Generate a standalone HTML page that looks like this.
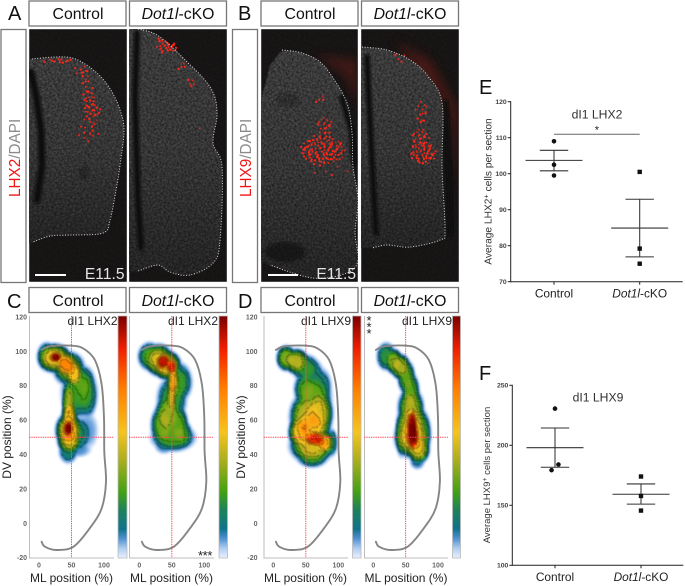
<!DOCTYPE html>
<html lang="en">
<head>
<meta charset="utf-8">
<title>LHX2 and LHX9 distribution in Dot1l-cKO</title>
<style>
html,body{margin:0;padding:0;background:#fff}
#figure{position:relative;width:685px;height:586px;overflow:hidden;background:#fff;font-family:"Liberation Sans",sans-serif}
#figure canvas{position:absolute;filter:blur(.5px)}
#art{position:absolute;left:0;top:0;filter:blur(.35px)}
text{font-family:"Liberation Sans",sans-serif}
.hdr{fill:#fff;stroke:#777;stroke-width:1.3}
.hdrt{font-size:15.8px;fill:#111;text-anchor:middle}
.letter{font-size:20px;fill:#111}
.out{fill:none;stroke:#eee;stroke-width:1;stroke-dasharray:1 1.7;opacity:.9}
.tissue{fill:#fff;filter:url(#tissueNoise)}
.shade{fill:url(#shadeGrad)}
.canal{fill:none;stroke:#0e0e0e;stroke-linecap:round;filter:url(#soft)}
.stain{font-size:15.3px}
.tag{font-size:15.6px;fill:#e4e4e4;text-anchor:end}
.bar{stroke:#fff;stroke-width:2}
.dtitle{font-size:12px;fill:#222;text-anchor:end}
.cb{fill:url(#heatGrad);stroke:#bbb;stroke-width:.8}
.axt{font-size:12px;fill:#222}
.stars{font-size:13px;fill:#222;text-anchor:middle}
</style>
</head>
<body>
<div id="figure">
<canvas id="cvC1"></canvas>
<canvas id="cvC2"></canvas>
<canvas id="cvD1"></canvas>
<canvas id="cvD2"></canvas>
<svg id="art" width="685" height="586" viewBox="0 0 685 586" xmlns="http://www.w3.org/2000/svg">
<defs>
<linearGradient id="heatGrad" x1="0" y1="1" x2="0" y2="0">
<stop offset="0" stop-color="#ebf0ff"/><stop offset=".04" stop-color="#afcdf0"/><stop offset=".08" stop-color="#5091d2"/><stop offset=".12" stop-color="#0f738c"/><stop offset=".2" stop-color="#1e825a"/><stop offset=".27" stop-color="#41a014"/><stop offset=".41" stop-color="#afaf1e"/><stop offset=".52" stop-color="#f5c31e"/><stop offset=".7" stop-color="#ff7d00"/><stop offset=".865" stop-color="#f01e00"/><stop offset="1" stop-color="#780000"/>
</linearGradient>
<linearGradient id="shadeGrad" x1="0" y1="0" x2="0" y2="1">
<stop offset="0" stop-color="#000" stop-opacity="0"/><stop offset=".5" stop-color="#000" stop-opacity=".1"/><stop offset="1" stop-color="#000" stop-opacity=".4"/>
</linearGradient>
<filter id="tissueNoise" x="0" y="0" width="100%" height="100%" color-interpolation-filters="sRGB">
<feTurbulence type="fractalNoise" baseFrequency=".8" numOctaves="1" seed="4"/>
<feColorMatrix values=".8 0 0 0 -.17  .8 0 0 0 -.17  .8 0 0 0 -.17  0 0 0 0 1"/>
<feComposite in2="SourceAlpha" operator="in"/>
<feGaussianBlur stdDeviation=".4"/>
</filter>
<filter id="bgNoise" x="0" y="0" width="100%" height="100%" color-interpolation-filters="sRGB">
<feTurbulence type="fractalNoise" baseFrequency=".7" numOctaves="1" seed="9"/>
<feColorMatrix values=".14 0 0 0 .02  .1 0 0 0 .03  .1 0 0 0 .03  0 0 0 0 1"/>
<feComposite in2="SourceAlpha" operator="in"/>
<feGaussianBlur stdDeviation=".5"/>
</filter>
<filter id="soft" x="-60%" y="-20%" width="220%" height="140%"><feGaussianBlur stdDeviation="1.2"/></filter>
<filter id="haze" x="-40%" y="-40%" width="180%" height="180%"><feGaussianBlur stdDeviation="5"/></filter>
<clipPath id="clipA1"><rect x="29" y="29" width="98" height="253"/></clipPath>
<clipPath id="clipA2"><rect x="129" y="29" width="98" height="253"/></clipPath>
<clipPath id="clipB1"><rect x="261" y="29" width="97" height="253"/></clipPath>
<clipPath id="clipB2"><rect x="361" y="29" width="98" height="253"/></clipPath>
</defs>

<!-- Panel A -->
<text class="letter" x="8" y="20">A</text>
<rect class="hdr" x="29" y="1" width="97" height="25"/>
<text class="hdrt" x="78" y="19">Control</text>
<rect class="hdr" x="129.5" y="1" width="97" height="25"/>
<text class="hdrt" x="178" y="19"><tspan font-style="italic">Dot1l</tspan>-cKO</text>
<rect class="hdr" x="1" y="29.5" width="25" height="253"/>
<text class="stain" transform="translate(20 197) rotate(-90)"><tspan fill="#f01414">LHX2</tspan><tspan fill="#8a8a8a">/DAPI</tspan></text>

<g clip-path="url(#clipA1)">
<rect x="29" y="29" width="98" height="253" fill="#fff" filter="url(#bgNoise)"/>
<path class="tissue" id="tA1"/>
<path class="shade" id="sA1"/>
<path class="canal" stroke-width="7" d="M31 72 L36 95 L41 130 L42 165 L37 200"/>
<ellipse cx="84" cy="173" rx="5" ry="7" fill="#111" opacity=".3" filter="url(#soft)"/>
<g id="cellsA1"></g>
<path class="out" id="oA1"/>
<line class="bar" x1="35" x2="66" y1="275" y2="275"/>
<text class="tag" x="124.5" y="279">E11.5</text>
</g>

<g clip-path="url(#clipA2)">
<rect x="129" y="29" width="98" height="253" fill="#fff" filter="url(#bgNoise)"/>
<path class="tissue" id="tA2"/>
<path class="shade" id="sA2"/>
<path class="canal" stroke-width="6" d="M137 33 L135 100 L138 200 L141 248"/>
<g id="cellsA2"></g>
<path class="out" id="oA2"/>
</g>

<!-- Panel B -->
<text class="letter" x="238" y="20">B</text>
<rect class="hdr" x="261" y="1" width="97" height="25"/>
<text class="hdrt" x="310" y="19">Control</text>
<rect class="hdr" x="361.5" y="1" width="97" height="25"/>
<text class="hdrt" x="410" y="19"><tspan font-style="italic">Dot1l</tspan>-cKO</text>
<rect class="hdr" x="232.5" y="29.5" width="25" height="253"/>
<text class="stain" transform="translate(251 197) rotate(-90)"><tspan fill="#f01414">LHX9</tspan><tspan fill="#8a8a8a">/DAPI</tspan></text>

<g clip-path="url(#clipB1)">
<rect x="261" y="29" width="97" height="253" fill="#fff" filter="url(#bgNoise)"/>
<path d="M315 55 L345 75 L358 105 L358 60 Z" fill="#6a1c14" opacity=".5" filter="url(#haze)"/>
<path class="tissue" id="tB1"/>
<path class="shade" id="sB1"/>
<ellipse cx="285" cy="252" rx="20" ry="10" fill="#0e0e0e" opacity=".6" filter="url(#soft)"/>
<ellipse cx="288" cy="100" rx="12" ry="7" fill="#111" opacity=".25" filter="url(#soft)"/>
<path d="M341 95 L351 130 L354 165" fill="none" stroke="#0e0e0e" stroke-width="5" filter="url(#soft)"/>
<g id="cellsB1"></g>
<path class="out" id="oB1"/>
<line class="bar" x1="268" x2="298" y1="275" y2="275"/>
<text class="tag" x="356" y="279">E11.5</text>
</g>

<g clip-path="url(#clipB2)">
<rect x="361" y="29" width="98" height="253" fill="#fff" filter="url(#bgNoise)"/>
<path d="M395 42 L430 60 L458 110 L458 190 L450 110 Z" fill="#6a1c14" opacity=".6" filter="url(#haze)"/>
<path class="tissue" id="tB2"/>
<path class="shade" id="sB2"/>
<path class="canal" stroke-width="5.5" d="M367 57 L369 100 L372 160 L376 233"/>
<path d="M446 100 L449 170 L451 235" fill="none" stroke="#0e0e0e" stroke-width="4" filter="url(#soft)"/>
<g id="cellsB2"></g>
<path class="out" id="oB2"/>
</g>

<!-- Panels C and D headers -->
<text class="letter" x="7" y="308">C</text>
<rect class="hdr" x="29" y="287.5" width="97" height="25"/>
<text class="hdrt" x="78" y="306">Control</text>
<rect class="hdr" x="129.5" y="287.5" width="97" height="25"/>
<text class="hdrt" x="178" y="306"><tspan font-style="italic">Dot1l</tspan>-cKO</text>
<text class="letter" x="238" y="308">D</text>
<rect class="hdr" x="261" y="287.5" width="97" height="25"/>
<text class="hdrt" x="310" y="306">Control</text>
<rect class="hdr" x="361.5" y="287.5" width="97" height="25"/>
<text class="hdrt" x="410" y="306"><tspan font-style="italic">Dot1l</tspan>-cKO</text>

<rect class="cb" x="118" y="316" width="9" height="242"/>
<rect class="cb" x="219" y="316" width="8.5" height="242"/>
<rect class="cb" x="352.5" y="316" width="8.5" height="242"/>
<rect class="cb" x="452.5" y="316" width="8" height="242"/>

<text class="dtitle" x="117.5" y="325">dI1 LHX2</text>
<text class="dtitle" x="218" y="325">dI1 LHX2</text>
<text class="dtitle" x="351" y="325">dI1 LHX9</text>
<text class="dtitle" x="452" y="325">dI1 LHX9</text>

<text class="axt" text-anchor="middle" transform="translate(11 437) rotate(-90)">DV position (%)</text>
<text class="axt" text-anchor="middle" transform="translate(245 437) rotate(-90)">DV position (%)</text>
<text class="axt" text-anchor="middle" x="71.5" y="582">ML position (%)</text>
<text class="axt" text-anchor="middle" x="171.5" y="582">ML position (%)</text>
<text class="axt" text-anchor="middle" x="305.5" y="582">ML position (%)</text>
<text class="axt" text-anchor="middle" x="406" y="582">ML position (%)</text>

<text class="stars" x="205" y="560" letter-spacing="-.4">***</text>
<g>
<text class="stars" x="369" y="325">*</text>
<text class="stars" x="369" y="331.5">*</text>
<text class="stars" x="369" y="338">*</text>
</g>
<g id="densityAxes"></g>

<!-- Panel E -->
<text class="letter" x="479" y="94">E</text>
<text x="597" y="118.3" font-size="12.2" fill="#333" text-anchor="middle">dI1 LHX2</text>
<text font-size="10.2" fill="#333" text-anchor="middle" transform="translate(491.5 191.5) rotate(-90)">Average LHX2<tspan font-size="7.5" dy="-3">+</tspan><tspan dy="3"> cells per section</tspan></text>
<g id="chartE"></g>

<!-- Panel F -->
<text class="letter" x="479" y="380">F</text>
<text x="598" y="401.7" font-size="12.2" fill="#333" text-anchor="middle">dI1 LHX9</text>
<text font-size="9.5" fill="#333" text-anchor="middle" transform="translate(490 475) rotate(-90)">Average LHX9<tspan font-size="7" dy="-3">+</tspan><tspan dy="3"> cells per section</tspan></text>
<g id="chartF"></g>
</svg>
</div>

<script>
/* ---------- chart data ---------- */
const categories = ["Control", "Dot1l-cKO"];
const eTicks = [70, 80, 90, 100, 110, 120];
const eControl = [109, 102.5, 99.5];
const eKO = [100.5, 79.2, 75];
const eControlX = [0, 0, 0];
const eKOX = [0, 0, 0];
const eControlStats = [103.7, 106.5, 100.8];
const eKOStats = [84.9, 92.9, 76.9];
const fTicks = [100, 150, 200, 250];
const fControl = [230.6, 184, 179.3];
const fKO = [174, 157.8, 145.6];
const fControlX = [0, 0.04, -0.04];
const fKOX = [0, 0, 0];
const fControlStats = [198, 214.4, 181.7];
const fKOStats = [159.2, 167.8, 151];
const mlTicks = [0, 50, 100];
const dvTicks = [120, 100, 80, 60, 40, 20, 0, -20];
const crossML = 50;
const crossDV = 50;
/* grey tissue contour: ML %, DV % */
const contourML = [4, 17, 48, 68, 86, 96.5, 100, 100.5, 103, 96.5, 78, 53, 27, 9, 4];
const contourDV = [100.8, 102.9, 103.3, 101.7, 94.9, 80.4, 61, 41.6, 24.2, 8.7, -2.9, -13.6, -15.5, -13.6, -10.7];
/* density kernels: ML, DV, spread ML, spread DV, intensity */
const densityC1 = [[12,97,10,5,.3],[26,96.5,6.5,2,1],[24,96,16,5,.55],[42,92,11,4.5,.7],[54,87,9,5,.55],[46,90,16,6,.35],[68,82,12,6,.25],[75,74,10,8,.2],[62,76,18,9,.28],[46,70,7,8,.4],[47,62,8,6,.55],[45,55,5.5,3,1],[46,54,13,6,.62],[47,48,12,4.5,.5],[45,42,10,4.5,.18],[62,52,12,6,.2],[74,54,12,7,.08],[60,43,14,3,.09]];
const densityC2 = [[16,97,12,5,.3],[30,95,14,5.5,.5],[37,94,8,3,.88],[50,91,6,3,.85],[42,92,14,5,.6],[52,83,6,6,.6],[60,82,14,7,.28],[50,74,5,7,.5],[50,72,15,8,.27],[44,63,13,7,.38],[36,57,12,7,.35],[60,57,10,7,.32],[52,50,22,5,.3],[68,52,9,5,.22],[38,45,10,3,.1]];
const densityD1 = [[20,96,10,4.5,.38],[36,94,12,4.5,.45],[50,90,14,5,.25],[60,86,12,6,.18],[72,79,12,7,.2],[50,78,12,6,.3],[62,73,18,8,.32],[70,64,14,8,.5],[50,62,16,8,.46],[42,53,12,6,.58],[60,56,18,7,.55],[64,49,12,3,.85],[78,47,10,4,.62],[60,45,22,6,.5],[60,39,16,4,.28],[90,47,6,5,.2]];
const densityD2 = [[20,97,10,5,.25],[32,94,9,4.5,.38],[42,91,10,4.5,.42],[51,85,9,6,.32],[58,76,9,7,.32],[58,67,13,7,.42],[60,58,15,7,.52],[60,57,6,6,1],[61,50,7,5,.98],[60,50,17,7,.58],[70,43,11,5,.5],[76,52,9,8,.28],[68,36,8,3,.12],[44,52,7,8,.3]];
const heatStops = [[0,235,240,255],[.04,175,205,240],[.08,80,145,210],[.12,15,115,140],[.2,30,130,90],[.27,65,160,20],[.41,175,175,30],[.52,245,195,30],[.7,255,125,0],[.865,240,30,0],[1,120,0,0]];
const contourLevels = [.1,.18,.27,.36,.45,.55,.65,.75,.85,.95];

/* ---------- micrograph artwork (not chart data) ---------- */
const outlines = {
  A1: {o:[[32,59],[55,57],[72,58],[85,64],[100,76],[112,92],[120,110],[124,130],[120,165],[116,190],[110,220],[103,233],[70,235],[50,236],[33,242]], c:[[29,243],[29,60]]},
  A2: {o:[[138,29],[157,35],[180,55],[210,87],[217,113],[213,143],[222,167],[220,240],[213,263],[190,275],[170,272],[158,265],[138,271]], c:[[129,272],[129,29]]},
  B1: {o:[[282,50],[302,53],[320,62],[333,78],[347,103],[352,133],[353,167],[358,200],[355,233],[358,260],[347,273],[313,278],[270,265]], c:[[261,262],[261,100],[270,65]]},
  B2: {o:[[362,47],[387,50],[410,60],[427,75],[442,103],[442,167],[445,230],[440,240],[410,247],[387,245],[372,248]], c:[[361,248],[361,47]]}
};
/* stained-cell patches in the micrographs */
const cellPatches = {
  A1: [[57,61,15,2,14],[82,71,7,5,10],[85,81,4,5,6],[89,96,6,8,16],[92,113,8,12,28],[88,133,10,8,12]],
  A2: [[167,47,10,5,30],[159,40,3,3,5],[181,67,4,3,5],[190,83,4,3,5],[199,130,1,1,1]],
  B1: [[323,150,22,14,120],[325,126,8,9,18],[319,100,5,3,5],[330,170,20,6,6]],
  B2: [[423,153,13,11,55],[420,137,9,8,22],[422,112,6,12,14],[400,58,8,3,4]]
};
function smooth(p){
  let d = 'M' + p[0][0] + ' ' + p[0][1];
  for (let i = 0; i < p.length - 1; i++) {
    const a = p[Math.max(i-1,0)], b = p[i], c = p[i+1], e = p[Math.min(i+2,p.length-1)];
    d += ' C' + (b[0]+(c[0]-a[0])/6).toFixed(1) + ' ' + (b[1]+(c[1]-a[1])/6).toFixed(1) + ' ' + (c[0]-(e[0]-b[0])/6).toFixed(1) + ' ' + (c[1]-(e[1]-b[1])/6).toFixed(1) + ' ' + c[0] + ' ' + c[1];
  }
  return d;
}
Object.keys(outlines).forEach(function(k){
  const line = smooth(outlines[k].o);
  const closed = line + outlines[k].c.map(function(q){return ' L' + q[0] + ' ' + q[1];}).join('') + ' Z';
  document.getElementById('o' + k).setAttribute('d', line);
  document.getElementById('t' + k).setAttribute('d', closed);
  document.getElementById('s' + k).setAttribute('d', closed);
});

const NS = 'http://www.w3.org/2000/svg';
function mk(parent, tag, attrs, txt){
  const el = document.createElementNS(NS, tag);
  for (const a in attrs) el.setAttribute(a, attrs[a]);
  if (txt !== undefined) el.textContent = txt;
  parent.appendChild(el);
  return el;
}
Object.keys(cellPatches).forEach(function(k){
  const g = document.getElementById('cells' + k);
  cellPatches[k].forEach(function(p, pi){
    for (let i = 0; i < p[4]; i++) {
      const rad = Math.sqrt((i + .5) / p[4]), ang = i * 2.39996 + pi;
      const jx = Math.sin((i + pi) * 12.9898) * 1.3, jy = Math.sin((i + pi) * 78.233) * 1.3;
      const dot = mk(g, 'circle', {cx:(p[0] + Math.cos(ang)*rad*p[2] + jx).toFixed(1), cy:(p[1] + Math.sin(ang)*rad*p[3] + jy).toFixed(1), r:(.85 + .35*Math.abs(Math.sin(i*3.7))).toFixed(2), fill:'#ff2618', opacity:(.65 + .35*Math.abs(Math.cos(i*5.1))).toFixed(2)});
      
      
    }
  });
});

/* ---------- density panels ---------- */
const yDV = function(v){ return 351.3 + (100 - v) * 1.72; };
const layouts = [
  {id:'cvC1', left:29,  right:114, x0:39,    x100:104,   kernels:densityC1, yLabels:true,  tickRight:27},
  {id:'cvC2', left:129, right:214, x0:139.3, x100:204.3, kernels:densityC2, yLabels:false},
  {id:'cvD1', left:263.5, right:348, x0:273.3, x100:338.3, kernels:densityD1, yLabels:true, tickRight:257.5},
  {id:'cvD2', left:364, right:448, x0:373.3, x100:438, kernels:densityD2, yLabels:false}
];
function heatColor(t){
  for (let i = 1; i < heatStops.length; i++) {
    if (t <= heatStops[i][0]) {
      const a = heatStops[i-1], b = heatStops[i], f = (t - a[0]) / (b[0] - a[0]);
      return [a[1]+(b[1]-a[1])*f, a[2]+(b[2]-a[2])*f, a[3]+(b[3]-a[3])*f];
    }
  }
  return heatStops[heatStops.length-1].slice(1);
}
function band(t){ let n = 0; for (const l of contourLevels) if (t >= l) n++; return n; }
function paintDensity(L){
  const cv = document.getElementById(L.id);
  const px0 = Math.floor(L.left), W = Math.ceil(L.right - L.left), top = 316, H = 243;
  cv.width = W; cv.height = H;
  cv.style.left = px0 + 'px'; cv.style.top = top + 'px';
  cv.style.width = W + 'px'; cv.style.height = H + 'px';
  const k = (L.x100 - L.x0) / 100;
  const field = new Float32Array(W * H);
  for (let j = 0; j < H; j++) for (let i = 0; i < W; i++) {
    const ml = (px0 + i + .5 - L.x0) / k, dv = 100 - (top + j + .5 - 351.3) / 1.72;
    let s = 0;
    for (const g of L.kernels) {
      const dx = (ml - g[0]) / (g[2] * 1.3), dy = (dv - g[1]) / (g[3] * 1.4);
      const r2 = dx*dx + dy*dy;
      const v = g[4] * Math.exp(-r2 * r2);
      s += v*v*v;
    }
    field[j*W+i] = Math.min(1, Math.pow(s, 1/3) * .92);
  }
  const ctx = cv.getContext('2d');
  const img = ctx.createImageData(W, H);
  for (let j = 0; j < H; j++) for (let i = 0; i < W; i++) {
    const t = field[j*W+i];
    if (t < .006) continue;
    const c = heatColor(t).slice();
    const right = i < W-1 ? field[j*W+i+1] : t, down = j < H-1 ? field[(j+1)*W+i] : t;
    if (t > .09 && (band(t) !== band(right) || band(t) !== band(down)) && (i + j) % 2 === 0) {
      c[0] *= .32; c[1] *= .32; c[2] *= .32;
    }
    const p = (j*W+i)*4;
    img.data[p] = c[0]; img.data[p+1] = c[1]; img.data[p+2] = c[2];
    img.data[p+3] = Math.min(255, t / .03 * 255);
  }
  ctx.putImageData(img, 0, 0);
}
function drawDensityAxes(L){
  const g = document.getElementById('densityAxes');
  const xML = function(v){ return L.x0 + (L.x100 - L.x0) * v / 100; };
  const yAxis = mk(g, 'line', {x1:L.left+.5, x2:L.left+.5, y1:316, y2:558, stroke:'#bdbdbd', 'stroke-width':1});
  
  
  const xAxis = mk(g, 'line', {x1:L.left, x2:L.right, y1:558, y2:558, stroke:'#bdbdbd', 'stroke-width':1});
  
  
  const pts = contourML.map(function(m, i){ return [+xML(m).toFixed(1), +yDV(contourDV[i]).toFixed(1)]; });
  const contour = mk(g, 'path', {d:smooth(pts), fill:'none', stroke:'#858585', 'stroke-width':1.9, 'stroke-linecap':'round'});
  
  
  const vLine = mk(g, 'line', {x1:xML(crossML), x2:xML(crossML), y1:316, y2:558, stroke:'#ff4a5c', 'stroke-width':1, 'stroke-dasharray':'1.4 .9'});
  
  
  const hLine = mk(g, 'line', {x1:L.left, x2:L.right, y1:yDV(crossDV), y2:yDV(crossDV), stroke:'#ff4a5c', 'stroke-width':1, 'stroke-dasharray':'1.4 .9'});
  
  
  for (const v of mlTicks) {
    const t = mk(g, 'text', {x:xML(v), y:567.7, 'text-anchor':'middle', 'font-size':7, 'font-weight':'bold', fill:'#666'}, String(v));
    
    
  }
  if (L.yLabels) for (const v of dvTicks) {
    const t = mk(g, 'text', {x:L.tickRight, y:yDV(v)+2.5, 'text-anchor':'end', 'font-size':7, 'font-weight':'bold', fill:'#666'}, String(v));
    
    
  }
}
layouts.forEach(paintDensity);
layouts.forEach(drawDensityAxes);

/* ---------- scatter charts ---------- */
function drawScatter(root, cfg){
  const y = function(v){ return cfg.yBase + (cfg.vBase - v) * cfg.pxPerUnit; };
  const x = function(c){ return cfg.cat0 + c * (cfg.cat1 - cfg.cat0); };
  const axisY = mk(root, 'line', {x1:cfg.left, x2:cfg.left, y1:y(cfg.ticks[cfg.ticks.length-1])-.5, y2:cfg.yBase+.5, stroke:'#222', 'stroke-width':1});
  
  
  const axisX = mk(root, 'line', {x1:cfg.left, x2:cfg.right, y1:cfg.yBase, y2:cfg.yBase, stroke:'#222', 'stroke-width':1});
  
  
  for (const v of cfg.ticks) {
    const tick = mk(root, 'line', {x1:cfg.left-3, x2:cfg.left, y1:y(v), y2:y(v), stroke:'#222', 'stroke-width':1});
    
    
    const lab = mk(root, 'text', {x:cfg.left-4, y:y(v)+2.4, 'text-anchor':'end', 'font-size':6.8, 'font-weight':'bold', fill:'#444'}, String(v));
    
    
  }
  categories.forEach(function(name, c){
    const tick = mk(root, 'line', {x1:x(c), x2:x(c), y1:cfg.yBase, y2:cfg.yBase+3, stroke:'#222', 'stroke-width':1});
    
    
    const lab = mk(root, 'text', {x:x(c), y:cfg.labelY, 'text-anchor':'middle', 'font-size':11.9, fill:'#222'});
    
    
    if (c === 1) {
      const it = mk(lab, 'tspan', {'font-style':'italic'}, 'Dot1l');
      
      
      lab.appendChild(document.createTextNode(name.slice(5)));
    } else {
      lab.textContent = name;
    }
    const st = cfg.stats[c];
    const seg = [[x(c)-28.5, x(c)+28.5, st[0]], [x(c)-14.2, x(c)+14.2, st[1]], [x(c)-14.2, x(c)+14.2, st[2]]];
    seg.forEach(function(s){
      const h = mk(root, 'line', {x1:s[0], x2:s[1], y1:y(s[2]), y2:y(s[2]), stroke:'#333', 'stroke-width':1.05});
      
      
    });
    const err = mk(root, 'line', {x1:x(c), x2:x(c), y1:y(st[1]), y2:y(st[2]), stroke:'#333', 'stroke-width':1.05});
    
    
    cfg.values[c].forEach(function(v, i){
      const px = x(c + cfg.jitter[c][i]);
      let m;
      if (c === 0) {
        m = mk(root, 'circle', {cx:px, cy:y(v), r:2.3, fill:'#111'});
      } else {
        m = mk(root, 'rect', {x:px-2.2, y:y(v)-2.2, width:4.4, height:4.4, fill:'#111'});
      }
      
      
    });
  });
  if (cfg.sig) {
    const b = mk(root, 'line', {x1:x(0), x2:x(1), y1:y(cfg.sig), y2:y(cfg.sig), stroke:'#666', 'stroke-width':1});
    
    
    const s = mk(root, 'text', {x:(x(0)+x(1))/2, y:y(cfg.sig)-1, 'text-anchor':'middle', 'font-size':11, fill:'#222'}, '*');
    
    
  }
}
drawScatter(document.getElementById('chartE'), {
  left:510.7, right:682.7, yBase:281.7, vBase:70, pxPerUnit:3.6, cat0:554, cat1:639.7, labelY:297.7,
  ticks:eTicks, values:[eControl, eKO], jitter:[eControlX, eKOX], stats:[eControlStats, eKOStats], sig:110.95
});
drawScatter(document.getElementById('chartF'), {
  left:512.3, right:683.3, yBase:565.3, vBase:100, pxPerUnit:1.2, cat0:555, cat1:641, labelY:581,
  ticks:fTicks, values:[fControl, fKO], jitter:[fControlX, fKOX], stats:[fControlStats, fKOStats]
});
</script>
</body>
</html>
